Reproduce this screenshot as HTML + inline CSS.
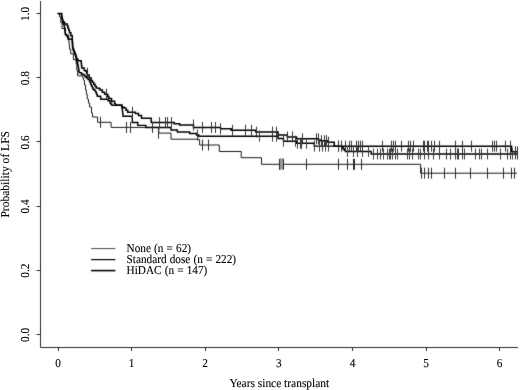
<!DOCTYPE html>
<html><head><meta charset="utf-8"><title>Probability of LFS</title>
<style>html,body{margin:0;padding:0;background:#fff;}svg{display:block;} text{text-rendering:geometricPrecision;}</style>
</head><body><svg width="520" height="390" viewBox="0 0 520 390">
<defs><filter id="soft" color-interpolation-filters="sRGB" x="0" y="0" width="520" height="390" filterUnits="userSpaceOnUse"><feConvolveMatrix order="3" kernelMatrix="1 2 1 2 28 2 1 2 1" divisor="40" edgeMode="duplicate"/></filter></defs>
<g filter="url(#soft)">
<rect width="520" height="390" fill="#fff"/>
<path d="M40.5 1 V347.5 H518" fill="none" stroke="#2a2a2a" stroke-width="1"/>
<path d="M36.6 13.5 H40.5 M36.6 77.5 H40.5 M36.6 141.5 H40.5 M36.6 206.5 H40.5 M36.6 270.5 H40.5 M36.6 334.5 H40.5 M58.5 347.5 V351 M131.5 347.5 V351 M205.5 347.5 V351 M278.5 347.5 V351 M352.5 347.5 V351 M426.5 347.5 V351 M499.5 347.5 V351 " fill="none" stroke="#2a2a2a" stroke-width="1"/>
<path d="M57.70 13.60 L59.60 13.60 L59.60 17.00 L60.80 17.00 L60.80 22.75 L62.00 22.75 L62.00 28.50 L65.50 28.50 L65.50 35.00 L68.80 35.00 L68.80 41.50 L69.15 41.50 L69.15 45.35 L69.50 45.35 L69.50 49.20 L70.70 49.20 L70.70 53.80 L73.40 53.80 L73.40 59.60 L76.00 59.60 L76.00 63.50 L76.80 63.50 L76.80 70.40 L77.60 70.40 L77.60 75.80 L82.60 75.80 L82.60 77.30 L83.40 77.30 L83.40 80.00 L84.45 80.00 L84.45 85.00 L85.50 85.00 L85.50 90.00 L86.40 90.00 L86.40 94.50 L87.30 94.50 L87.30 99.00 L88.45 99.00 L88.45 103.00 L89.60 103.00 L89.60 107.00 L91.50 107.00 L91.50 113.00 L92.50 113.00 L92.50 117.00 L97.60 117.00 L97.60 122.30 L111.10 122.30 L111.10 127.40 L158.80 127.40 L158.80 133.10 L171.00 133.10 L171.00 139.20 L199.60 139.20 L199.60 145.00 L219.30 145.00 L219.30 151.50 L241.20 151.50 L241.20 157.70 L261.50 157.70 L261.50 164.30 L420.60 164.30 L420.60 173.20 L517.00 173.20" fill="none" stroke="#1a1a1a" stroke-width="1.0"/>
<path d="M57.70 13.60 L61.40 13.60 L61.53 13.60 L61.53 15.13 L61.67 15.13 L61.67 16.67 L61.80 16.67 L61.80 18.20 L62.17 18.20 L62.17 19.63 L62.53 19.63 L62.53 21.07 L62.90 21.07 L62.90 22.50 L63.43 22.50 L63.43 24.13 L63.97 24.13 L63.97 25.77 L64.50 25.77 L64.50 27.40 L64.64 27.40 L64.64 28.78 L64.78 28.78 L64.78 30.16 L64.92 30.16 L64.92 31.54 L65.06 31.54 L65.06 32.92 L65.20 32.92 L65.20 34.30 L66.20 34.30 L66.20 35.45 L67.20 35.45 L67.20 36.60 L67.75 36.60 L67.75 37.95 L68.30 37.95 L68.30 39.30 L72.20 39.30 L72.28 39.30 L72.28 40.83 L72.37 40.83 L72.37 42.37 L72.45 42.37 L72.45 43.90 L72.53 43.90 L72.53 45.43 L72.62 45.43 L72.62 46.97 L72.70 46.97 L72.70 48.50 L73.28 48.50 L73.28 50.02 L73.85 50.02 L73.85 51.55 L74.42 51.55 L74.42 53.08 L75.00 53.08 L75.00 54.60 L75.70 54.60 L75.70 56.00 L76.03 56.00 L76.03 57.40 L76.36 57.40 L76.36 58.80 L76.69 58.80 L76.69 60.20 L77.01 60.20 L77.01 61.60 L77.34 61.60 L77.34 63.00 L77.67 63.00 L77.67 64.40 L78.00 64.40 L78.00 65.80 L78.24 65.80 L78.24 67.18 L78.48 67.18 L78.48 68.56 L78.72 68.56 L78.72 69.94 L78.96 69.94 L78.96 71.32 L79.20 71.32 L79.20 72.70 L81.50 72.70 L81.50 74.20 L83.80 74.20 L83.80 75.40 L85.15 75.40 L85.15 76.70 L86.50 76.70 L86.50 78.00 L88.00 78.00 L88.00 79.60 L89.50 79.60 L89.50 81.20 L90.15 81.20 L90.15 82.90 L90.80 82.90 L90.80 84.60 L91.53 84.60 L91.53 86.13 L92.27 86.13 L92.27 87.67 L93.00 87.67 L93.00 89.20 L94.20 89.20 L94.20 90.35 L95.40 90.35 L95.40 91.50 L96.03 91.50 L96.03 93.07 L96.67 93.07 L96.67 94.63 L97.30 94.63 L97.30 96.20 L100.40 96.20 L100.40 97.00 L100.80 97.00 L100.80 99.20 L106.20 99.20 L108.00 99.20 L108.00 100.80 L110.00 100.80 L110.00 103.00 L111.00 103.00 L111.00 104.20 L112.00 104.20 L112.00 105.40 L121.20 105.40 L121.70 105.40 L121.70 107.20 L122.20 107.20 L122.20 109.00 L122.36 109.00 L122.36 110.46 L122.52 110.46 L122.52 111.92 L122.68 111.92 L122.68 113.38 L122.84 113.38 L122.84 114.84 L123.00 114.84 L123.00 116.30 L132.30 116.30 L132.30 122.50 L137.80 122.50 L137.80 125.40 L145.80 125.40 L145.80 127.50 L171.00 127.50 L171.00 130.00 L177.30 130.00 L177.30 132.00 L189.60 132.00 L189.60 133.50 L196.50 133.50 L196.50 135.00 L198.80 135.00 L198.80 136.20 L278.10 136.20 L278.10 138.50 L283.50 138.50 L283.50 141.20 L296.50 141.20 L296.50 143.30 L314.20 143.30 L314.20 146.10 L341.90 146.10 L341.90 147.80 L343.10 147.80 L343.10 149.00 L344.30 149.00 L344.30 150.20 L345.40 150.20 L345.40 151.50 L371.20 151.50 L371.20 154.00 L518.00 154.00" fill="none" stroke="#000" stroke-width="1.4"/>
<path d="M57.70 13.60 L61.40 13.60 L61.60 13.60 L61.60 15.90 L61.80 15.90 L61.80 18.20 L62.35 18.20 L62.35 20.10 L62.90 20.10 L62.90 22.00 L64.50 22.00 L64.50 23.90 L67.20 23.90 L67.20 25.80 L67.97 25.80 L67.97 28.13 L68.73 28.13 L68.73 30.47 L69.50 30.47 L69.50 32.80 L70.85 32.80 L70.85 35.50 L72.20 35.50 L72.20 38.20 L72.30 38.20 L72.30 40.26 L72.40 40.26 L72.40 42.32 L72.50 42.32 L72.50 44.38 L72.60 44.38 L72.60 46.44 L72.70 46.44 L72.70 48.50 L73.47 48.50 L73.47 50.53 L74.23 50.53 L74.23 52.57 L75.00 52.57 L75.00 54.60 L75.75 54.60 L75.75 56.90 L76.50 56.90 L76.50 59.20 L78.00 59.20 L78.00 60.80 L81.00 60.80 L81.00 61.20 L81.27 61.20 L81.27 63.47 L81.53 63.47 L81.53 65.73 L81.80 65.73 L81.80 68.00 L84.20 68.00 L84.20 70.40 L86.00 70.40 L86.00 71.20 L86.60 71.20 L86.60 73.10 L87.20 73.10 L87.20 75.00 L89.10 75.00 L89.10 77.70 L91.00 77.70 L91.00 80.40 L92.33 80.40 L92.33 82.33 L93.67 82.33 L93.67 84.27 L95.00 84.27 L95.00 86.20 L96.20 86.20 L96.20 88.00 L98.50 88.00 L98.50 88.50 L100.00 88.50 L100.00 90.00 L102.30 90.00 L102.30 92.30 L104.60 92.30 L104.60 94.20 L107.70 94.20 L107.70 96.50 L108.80 96.50 L108.80 98.50 L111.50 98.50 L111.50 101.20 L114.60 101.20 L114.60 103.80 L115.40 103.80 L115.40 105.00 L121.20 105.00 L121.90 105.00 L121.90 107.30 L124.20 107.30 L124.20 108.00 L125.95 108.00 L125.95 110.15 L127.70 110.15 L127.70 112.30 L133.00 112.30 L135.40 112.30 L135.40 113.50 L138.50 113.50 L138.50 115.40 L141.50 115.40 L141.50 118.20 L151.20 118.20 L151.20 122.60 L174.20 122.60 L174.20 123.80 L179.60 123.80 L179.60 125.00 L193.50 125.00 L193.50 127.50 L220.60 127.50 L220.60 128.80 L231.20 128.80 L231.20 130.30 L255.80 130.30 L255.80 132.10 L278.10 132.10 L278.10 135.00 L287.30 135.00 L287.30 136.90 L296.50 136.90 L296.50 138.80 L318.50 138.80 L318.50 139.90 L321.00 139.90 L321.00 140.70 L328.00 140.70 L328.00 142.20 L334.20 142.20 L334.20 146.20 L511.60 146.20 L511.60 151.80 L518.00 151.80" fill="none" stroke="#000" stroke-width="1.5"/>
<path d="M100.5 116.8 V127.8 M126.5 121.9 V132.9 M130.5 121.9 V132.9 M152.5 121.9 V132.9 M158.5 127.6 V138.6 M202.5 139.5 V150.5 M208.5 139.5 V150.5 M279.5 158.8 V169.8 M283.5 158.8 V169.8 M306.5 158.8 V169.8 M338.5 158.8 V169.8 M347.5 158.8 V169.8 M353.5 158.8 V169.8 M354.5 158.8 V169.8 M361.5 158.8 V169.8 M421.5 167.7 V178.7 M424.5 167.7 V178.7 M428.5 167.7 V178.7 M431.5 167.7 V178.7 M444.5 167.7 V178.7 M455.5 167.7 V178.7 M470.5 167.7 V178.7 M487.5 167.7 V178.7 M503.5 167.7 V178.7 M511.5 167.7 V178.7 M514.5 167.7 V178.7 " fill="none" stroke="#2a2a2a" stroke-width="1"/>
<path d="M197.5 129.5 V140.5 M259.5 130.7 V141.7 M272.5 130.7 V141.7 M276.5 130.7 V141.7 M283.5 135.7 V146.7 M295.5 135.7 V146.7 M297.5 137.8 V148.8 M300.5 137.8 V148.8 M301.5 137.8 V148.8 M306.5 137.8 V148.8 M314.5 140.6 V151.6 M319.5 140.6 V151.6 M322.5 140.6 V151.6 M325.5 140.6 V151.6 M328.5 140.6 V151.6 M338.5 140.6 V151.6 M347.5 146.0 V157.0 M353.5 146.0 V157.0 M357.5 146.0 V157.0 M362.5 146.0 V157.0 M368.5 146.0 V157.0 M373.5 148.5 V159.5 M377.5 148.5 V159.5 M380.5 148.5 V159.5 M383.5 148.5 V159.5 M387.5 148.5 V159.5 M389.5 148.5 V159.5 M390.5 148.5 V159.5 M392.5 148.5 V159.5 M395.5 148.5 V159.5 M397.5 148.5 V159.5 M407.5 148.5 V159.5 M409.5 148.5 V159.5 M412.5 148.5 V159.5 M418.5 148.5 V159.5 M420.5 148.5 V159.5 M424.5 148.5 V159.5 M428.5 148.5 V159.5 M433.5 148.5 V159.5 M439.5 148.5 V159.5 M446.5 148.5 V159.5 M450.5 148.5 V159.5 M455.5 148.5 V159.5 M457.5 148.5 V159.5 M458.5 148.5 V159.5 M462.5 148.5 V159.5 M464.5 148.5 V159.5 M475.5 148.5 V159.5 M479.5 148.5 V159.5 M481.5 148.5 V159.5 M487.5 148.5 V159.5 M500.5 148.5 V159.5 M507.5 148.5 V159.5 M510.5 148.5 V159.5 M512.5 148.5 V159.5 M515.5 148.5 V159.5 M517.5 148.5 V159.5 " fill="none" stroke="#333" stroke-width="0.95"/>
<path d="M87.5 67.6 V78.6 M106.5 88.7 V99.7 M132.5 106.8 V117.8 M159.5 117.1 V128.1 M165.5 117.1 V128.1 M167.5 117.1 V128.1 M171.5 117.1 V128.1 M193.5 119.5 V130.5 M202.5 122.0 V133.0 M211.5 122.0 V133.0 M215.5 122.0 V133.0 M220.5 123.3 V134.3 M232.5 124.8 V135.8 M245.5 124.8 V135.8 M251.5 124.8 V135.8 M256.5 126.6 V137.6 M272.5 126.6 V137.6 M276.5 126.6 V137.6 M287.5 131.4 V142.4 M292.5 131.4 V142.4 M302.5 133.3 V144.3 M316.5 133.3 V144.3 M318.5 133.3 V144.3 M321.5 135.2 V146.2 M324.5 135.2 V146.2 M326.5 135.2 V146.2 M328.5 136.7 V147.7 M338.5 140.7 V151.7 M341.5 140.7 V151.7 M345.5 140.7 V151.7 M349.5 140.7 V151.7 M351.5 140.7 V151.7 M356.5 140.7 V151.7 M358.5 140.7 V151.7 M360.5 140.7 V151.7 M362.5 140.7 V151.7 M382.5 140.7 V151.7 M391.5 140.7 V151.7 M393.5 140.7 V151.7 M395.5 140.7 V151.7 M401.5 140.7 V151.7 M408.5 140.7 V151.7 M410.5 140.7 V151.7 M413.5 140.7 V151.7 M423.5 140.7 V151.7 M424.5 140.7 V151.7 M427.5 140.7 V151.7 M428.5 140.7 V151.7 M431.5 140.7 V151.7 M434.5 140.7 V151.7 M439.5 140.7 V151.7 M455.5 140.7 V151.7 M462.5 140.7 V151.7 M471.5 140.7 V151.7 M492.5 140.7 V151.7 M494.5 140.7 V151.7 M496.5 140.7 V151.7 M505.5 140.7 V151.7 M510.5 140.7 V151.7 M515.5 146.3 V157.3 M517.5 146.3 V157.3 " fill="none" stroke="#2a2a2a" stroke-width="0.95"/>
<rect x="280" y="158.3" width="3" height="11.4" fill="#9a9a9a"/>
<path d="M91.1 248.6 H115.4" stroke="#333" stroke-width="0.9"/>
<path d="M91.1 259.6 H115.4" stroke="#000" stroke-width="1.2"/>
<path d="M91.1 270.6 H115.4" stroke="#000" stroke-width="1.6"/>
</g>
<text transform="translate(126.6 251.9) scale(1 1.070)" word-spacing="0.3" font-family="Liberation Serif, serif" font-size="11.25" fill="#000" stroke="#000" stroke-width="0.1">None (n = 62)</text>
<text transform="translate(126.6 262.9) scale(1 1.070)" word-spacing="0.3" font-family="Liberation Serif, serif" font-size="11.25" fill="#000" stroke="#000" stroke-width="0.1">Standard dose (n = 222)</text>
<text transform="translate(126.6 273.9) scale(1 1.070)" word-spacing="0.3" font-family="Liberation Serif, serif" font-size="11.25" fill="#000" stroke="#000" stroke-width="0.1">HiDAC (n = 147)</text>
<text transform="translate(28.6 14.0) rotate(-90) scale(1 1.08)" text-anchor="middle" font-family="Liberation Serif, serif" font-size="11.3" fill="#000" stroke="#000" stroke-width="0.1">1.0</text>
<text transform="translate(28.6 78.2) rotate(-90) scale(1 1.08)" text-anchor="middle" font-family="Liberation Serif, serif" font-size="11.3" fill="#000" stroke="#000" stroke-width="0.1">0.8</text>
<text transform="translate(28.6 142.4) rotate(-90) scale(1 1.08)" text-anchor="middle" font-family="Liberation Serif, serif" font-size="11.3" fill="#000" stroke="#000" stroke-width="0.1">0.6</text>
<text transform="translate(28.6 206.5) rotate(-90) scale(1 1.08)" text-anchor="middle" font-family="Liberation Serif, serif" font-size="11.3" fill="#000" stroke="#000" stroke-width="0.1">0.4</text>
<text transform="translate(28.6 270.7) rotate(-90) scale(1 1.08)" text-anchor="middle" font-family="Liberation Serif, serif" font-size="11.3" fill="#000" stroke="#000" stroke-width="0.1">0.2</text>
<text transform="translate(28.6 334.9) rotate(-90) scale(1 1.08)" text-anchor="middle" font-family="Liberation Serif, serif" font-size="11.3" fill="#000" stroke="#000" stroke-width="0.1">0.0</text>
<text transform="translate(58.0 366.9) scale(1 1.070)" text-anchor="middle" font-family="Liberation Serif, serif" font-size="11.3" fill="#000" stroke="#000" stroke-width="0.1">0</text>
<text transform="translate(131.6 366.9) scale(1 1.070)" text-anchor="middle" font-family="Liberation Serif, serif" font-size="11.3" fill="#000" stroke="#000" stroke-width="0.1">1</text>
<text transform="translate(205.2 366.9) scale(1 1.070)" text-anchor="middle" font-family="Liberation Serif, serif" font-size="11.3" fill="#000" stroke="#000" stroke-width="0.1">2</text>
<text transform="translate(278.9 366.9) scale(1 1.070)" text-anchor="middle" font-family="Liberation Serif, serif" font-size="11.3" fill="#000" stroke="#000" stroke-width="0.1">3</text>
<text transform="translate(352.5 366.9) scale(1 1.070)" text-anchor="middle" font-family="Liberation Serif, serif" font-size="11.3" fill="#000" stroke="#000" stroke-width="0.1">4</text>
<text transform="translate(426.1 366.9) scale(1 1.070)" text-anchor="middle" font-family="Liberation Serif, serif" font-size="11.3" fill="#000" stroke="#000" stroke-width="0.1">5</text>
<text transform="translate(499.7 366.9) scale(1 1.070)" text-anchor="middle" font-family="Liberation Serif, serif" font-size="11.3" fill="#000" stroke="#000" stroke-width="0.1">6</text>
<text transform="translate(279.3 387.1) scale(1 1.070)" text-anchor="middle" font-family="Liberation Serif, serif" font-size="11.45" fill="#000" stroke="#000" stroke-width="0.1">Years since transplant</text>
<text transform="translate(9.0 174.3) rotate(-90) scale(1 1.05)" text-anchor="middle" font-family="Liberation Serif, serif" font-size="11.55" fill="#000" stroke="#000" stroke-width="0.1">Probability of LFS</text>
</svg></body></html>
